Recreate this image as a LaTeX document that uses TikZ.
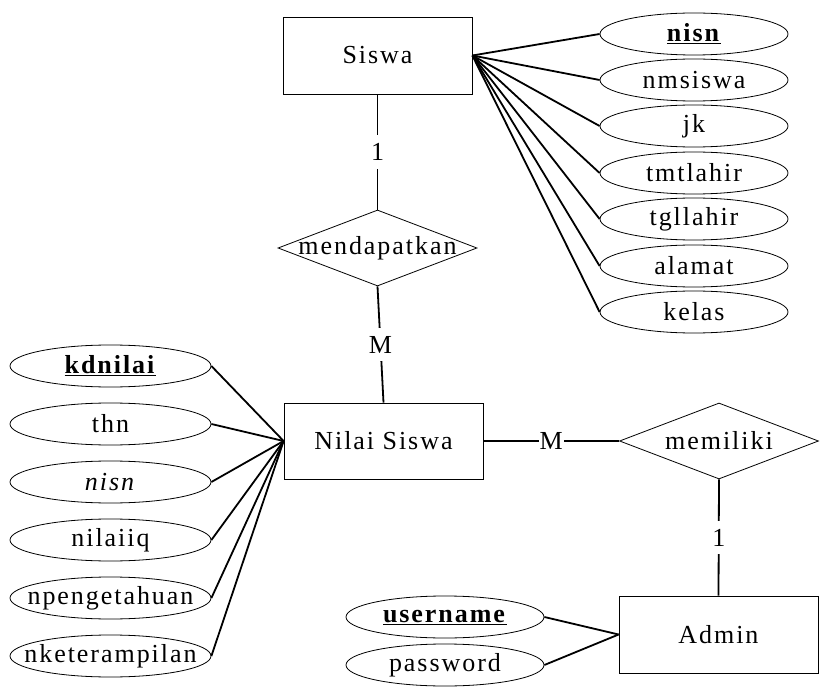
\documentclass[tikz,border=0pt]{standalone}
\usepackage{fontspec}
\setmainfont{Liberation Serif}[LetterSpace=7.5]
\usetikzlibrary{shapes.geometric}

\begin{document}
\begin{tikzpicture}[x=1pt,y=-1pt,
  every node/.style={font=\fontsize{26}{30}\selectfont},
  entity/.style={draw, line width=0.8pt, inner sep=0pt},
  relation/.style={draw, diamond, line width=0.8pt, inner sep=0pt,
    minimum width=199pt, minimum height=76pt},
  attr/.style={draw, ellipse, line width=0.8pt, inner sep=0pt,
    minimum width=198pt, minimum height=42pt},
  link/.style={line width=1.8pt},
  card/.style={fill=white, inner xsep=1pt, inner ysep=8pt}]
\useasboundingbox (0,0) rectangle (825,687);

% entities
\node[entity, minimum width=189pt, minimum height=77pt] (siswa) at (377.5,55.5) {Siswa};
\node[entity, minimum width=199pt, minimum height=76pt] (nilai) at (383.5,441) {Nilai Siswa};
\node[entity, minimum width=199pt, minimum height=77pt] (admin) at (718.5,634.5) {Admin};

% relationships
\node[relation, label=center:{mendapatkan}] (mend) at (377.5,248) {};
\node[relation, label=center:{memiliki}] (memi) at (719,441) {};

% attributes of Siswa
\node[attr, minimum width=188pt, label=center:{\underline{\textbf{nisn}}}] (s1) at (694,34) {};
\node[attr, minimum width=188pt, label=center:{nmsiswa}] (s2) at (694,80) {};
\node[attr, minimum width=188pt, label=center:{jk}] (s3) at (694,126) {};
\node[attr, minimum width=188pt, label=center:{tmtlahir}] (s4) at (694,173) {};
\node[attr, minimum width=188pt, label=center:{tgllahir}] (s5) at (694,219) {};
\node[attr, minimum width=188pt, label=center:{alamat}] (s6) at (694,266) {};
\node[attr, minimum width=188pt, label=center:{kelas}] (s7) at (694,312) {};

% attributes of Nilai Siswa
\node[attr, minimum width=201pt, label=center:{\underline{\textbf{kdnilai}}}] (n1) at (110.5,366) {};
\node[attr, minimum width=201pt, label=center:{thn}] (n2) at (110.5,424) {};
\node[attr, minimum width=201pt, label=center:{\textit{nisn}}] (n3) at (110.5,482) {};
\node[attr, minimum width=201pt, label=center:{nilaiiq}] (n4) at (110.5,540) {};
\node[attr, minimum width=201pt, label=center:{npengetahuan}] (n5) at (110.5,598) {};
\node[attr, minimum width=201pt, label=center:{nketerampilan}] (n6) at (110.5,656) {};

% attributes of Admin
\node[attr, label=center:{\underline{\textbf{username}}}] (a1) at (445,617) {};
\node[attr, label=center:{password}] (a2) at (445,665) {};

% attribute links
\foreach \t in {s1,s2,s3,s4,s5,s6,s7}
  \draw[link] (siswa.east) -- (\t.west);
\foreach \t in {n1,n2,n3,n4,n5,n6}
  \draw[link] (nilai.west) -- (\t.east);
\foreach \t in {a1,a2}
  \draw[link] (admin.west) -- (\t.east);

% relationship links with cardinalities
\draw[link] (siswa.south) -- node[card] {1} (mend.north);
\draw[link] (mend.south) -- node[card] {M} (nilai.north);
\draw[link] (nilai.east) -- node[card] {M} (memi.west);
\draw[link] (memi.south) -- node[card] {1} (admin.north);
\end{tikzpicture}
\end{document}
